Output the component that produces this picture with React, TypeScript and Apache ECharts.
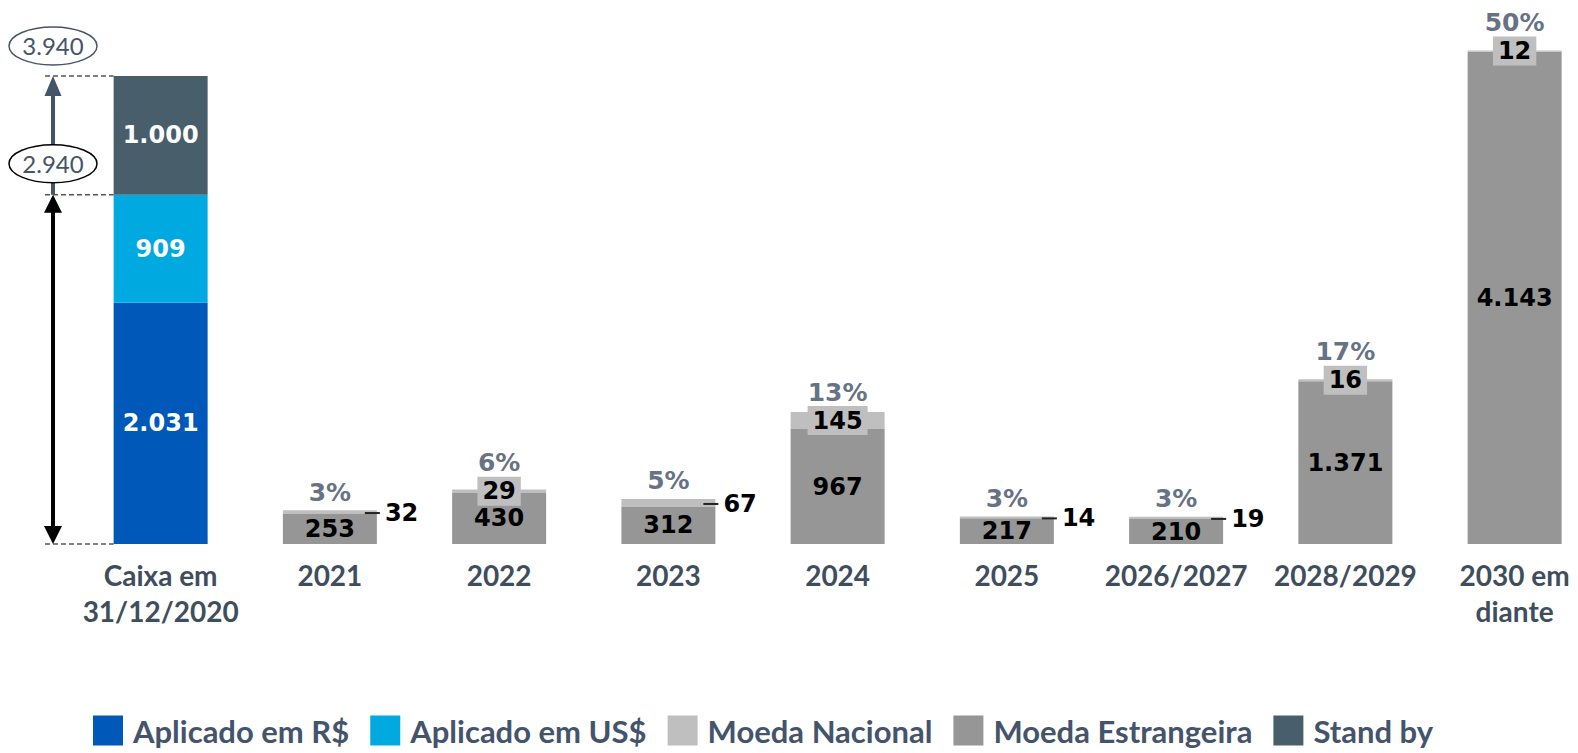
import React, { useEffect, useRef } from "react";
import * as echarts from "echarts";

const categories = [
  "Caixa em\n31/12/2020",
  "2021",
  "2022",
  "2023",
  "2024",
  "2025",
  "2026/2027",
  "2028/2029",
  "2030 em\ndiante",
];
const aplicadoReal = [2031, null, null, null, null, null, null, null, null];
const aplicadoDolar = [909, null, null, null, null, null, null, null, null];
const standBy = [1000, null, null, null, null, null, null, null, null];
const moedaEstrangeira = [null, 253, 430, 312, 967, 217, 210, 1371, 4143];
const moedaNacional = [null, 32, 29, 67, 145, 14, 19, 16, 12];
const percentual = [null, 3, 6, 5, 13, 3, 3, 17, 50];
const nacionalBoxed = [false, false, true, false, true, false, false, true, true];

const C_REAL = "#0058B8";
const C_DOLAR = "#00A9DF";
const C_NAC = "#BFBFBF";
const C_EST = "#969696";
const C_STAND = "#485E6A";
const SLATE = "#44546A";

const Y_MAX = 4500;
const GRID_TOP = 9.4;
const GRID_H = 534.6;
const PX_PER_UNIT = GRID_H / Y_MAX;
const BAR_W = 94;

const fmt = (n: number) => String(n).replace(/\B(?=(\d{3})+(?!\d))/g, ".");

const valueFont = { fontFamily: "DejaVu Sans", fontWeight: "bold" as const, fontSize: 24 };

export default function App() {
  const ref = useRef<HTMLDivElement>(null);
  useEffect(() => {
    if (!ref.current) return;
    const chart = echarts.init(ref.current, null, { renderer: "svg" });

    const inLabel = (color: string) => ({
      show: true,
      position: "inside",
      color,
      ...valueFont,
      formatter: (p: any) => fmt(p.value),
    });

    const nacData = moedaNacional.map((v, i) => {
      if (v == null) return null;
      if (nacionalBoxed[i]) {
        return {
          value: v,
          label: {
            show: true,
            position: "inside",
            color: "#000",
            ...valueFont,
            backgroundColor: C_NAC,
            padding: [3, 5, 2, 5],
            formatter: fmt(v),
          },
        };
      }
      return {
        value: v,
        label: {
          show: true,
          position: "right",
          distance: 0,
          offset: [-12, 1],
          formatter: "{d|}{v|" + fmt(v) + "}",
          rich: {
            d: { width: 15, height: 2, backgroundColor: "#222" },
            v: { ...valueFont, color: "#000", padding: [0, 0, 0, 5] },
          },
        },
      };
    });

    const pctData = percentual.map((p, i) => {
      if (p == null) return null;
      const total = (moedaEstrangeira[i] as number) + (moedaNacional[i] as number);
      const segH = (moedaNacional[i] as number) * PX_PER_UNIT;
      const above = nacionalBoxed[i] ? Math.max(18, 28.5 - segH / 2) : 18;
      return { value: total, label: { distance: above - 12.5 } };
    });

    const option: any = {
      animation: false,
      grid: { left: 76, top: GRID_TOP, width: 9 * 169.25, height: GRID_H },
      legend: {
        left: 88,
        top: 710,
        icon: "rect",
        itemWidth: 30,
        itemHeight: 30,
        itemGap: 21,
        data: ["Aplicado em R$", "Aplicado em US$", "Moeda Nacional", "Moeda Estrangeira", "Stand by"],
        textStyle: {
          fontFamily: "Lato",
          fontWeight: "bold",
          fontSize: 31,
          lineHeight: 30,
          color: SLATE,
          padding: [0, 0, 0, 5],
        },
      },
      xAxis: {
        type: "category",
        data: categories,
        axisLine: { show: false },
        axisTick: { show: false },
        axisLabel: {
          interval: 0,
          margin: 13,
          fontFamily: "Lato",
          fontWeight: "bold",
          fontSize: 28,
          lineHeight: 36,
          color: "#3F4E5D",
        },
      },
      yAxis: { type: "value", min: 0, max: Y_MAX, show: false, splitLine: { show: false } },
      series: [
        {
          name: "Aplicado em R$",
          type: "bar",
          stack: "t",
          barWidth: BAR_W,
          itemStyle: { color: C_REAL },
          label: inLabel("#fff"),
          data: aplicadoReal,
        },
        {
          name: "Aplicado em US$",
          type: "bar",
          stack: "t",
          barWidth: BAR_W,
          itemStyle: { color: C_DOLAR },
          label: inLabel("#fff"),
          data: aplicadoDolar,
        },
        {
          name: "Stand by",
          type: "bar",
          stack: "t",
          barWidth: BAR_W,
          itemStyle: { color: C_STAND },
          label: inLabel("#fff"),
          data: standBy,
        },
        {
          name: "Moeda Estrangeira",
          type: "bar",
          stack: "t",
          barWidth: BAR_W,
          itemStyle: { color: C_EST },
          label: inLabel("#000"),
          data: moedaEstrangeira,
        },
        {
          name: "Moeda Nacional",
          type: "bar",
          stack: "t",
          barWidth: BAR_W,
          itemStyle: { color: C_NAC },
          data: nacData,
        },
        {
          name: "pct",
          type: "scatter",
          symbolSize: 0,
          silent: true,
          z: 10,
          label: {
            show: true,
            position: "top",
            fontFamily: "DejaVu Sans",
            fontWeight: "bold",
            fontSize: 25,
            lineHeight: 25,
            color: "#3D4D63",
            formatter: (p: any) => percentual[p.dataIndex] + "%",
          },
          data: pctData,
        },
      ],
    };
    chart.setOption(option);

    const caixaTotal = (aplicadoReal[0] as number) + (aplicadoDolar[0] as number);
    const caixaStand = caixaTotal + (standBy[0] as number);
    const p0 = chart.convertToPixel({ gridIndex: 0 }, [0, 0]) as number[];
    const p1 = chart.convertToPixel({ gridIndex: 0 }, [0, caixaTotal]) as number[];
    const p2 = chart.convertToPixel({ gridIndex: 0 }, [0, caixaStand]) as number[];
    const barLeft = p0[0] - BAR_W / 2;
    const ax = 53;
    const y0 = p0[1];
    const y1 = p1[1];
    const y2 = p2[1];
    const dash = (y: number) => ({
      type: "line",
      shape: { x1: 45, y1: y, x2: barLeft, y2: y },
      style: { stroke: "#555", lineWidth: 1.5, lineDash: [5, 3] },
      z: 5,
    });
    const ell = (cy: number, stroke: string, txt: string) => [
      {
        type: "ellipse",
        shape: { cx: ax, cy, rx: 44, ry: 19 },
        style: { fill: "#fff", stroke, lineWidth: 1.5 },
        z: 20,
      },
      {
        type: "text",
        x: ax,
        y: cy,
        style: {
          text: txt,
          fontFamily: "Lato",
          fontSize: 24,
          fill: SLATE,
          align: "center",
          verticalAlign: "middle",
        },
        z: 21,
      },
    ];
    chart.setOption({
      graphic: [
        dash(y0),
        dash(y1),
        dash(y2),
        {
          type: "line",
          shape: { x1: ax, y1: y1, x2: ax, y2: y2 + 18 },
          style: { stroke: SLATE, lineWidth: 4 },
          z: 10,
        },
        {
          type: "polygon",
          shape: { points: [[ax - 8.5, y2 + 20], [ax + 8.5, y2 + 20], [ax, y2]] },
          style: { fill: SLATE },
          z: 10,
        },
        {
          type: "line",
          shape: { x1: ax, y1: y1 + 16, x2: ax, y2: y0 - 16 },
          style: { stroke: "#000", lineWidth: 4 },
          z: 11,
        },
        {
          type: "polygon",
          shape: { points: [[ax - 9, y1 + 18], [ax + 9, y1 + 18], [ax, y1]] },
          style: { fill: "#000" },
          z: 11,
        },
        {
          type: "polygon",
          shape: { points: [[ax - 9, y0 - 18], [ax + 9, y0 - 18], [ax, y0]] },
          style: { fill: "#000" },
          z: 11,
        },
        ...ell(y2 - 30, SLATE, fmt(caixaStand)),
        ...ell(y1 - 31, "#000", fmt(caixaTotal)),
      ],
    });

    return () => chart.dispose();
  }, []);
  return (
    <div style={{ position: "fixed", left: 0, top: 0, width: 1578, height: 753, overflow: "hidden", background: "#fff" }}>
      <div ref={ref} style={{ position: "absolute", left: 0, top: 0, width: 1700, height: 753 }} />
    </div>
  );
}
